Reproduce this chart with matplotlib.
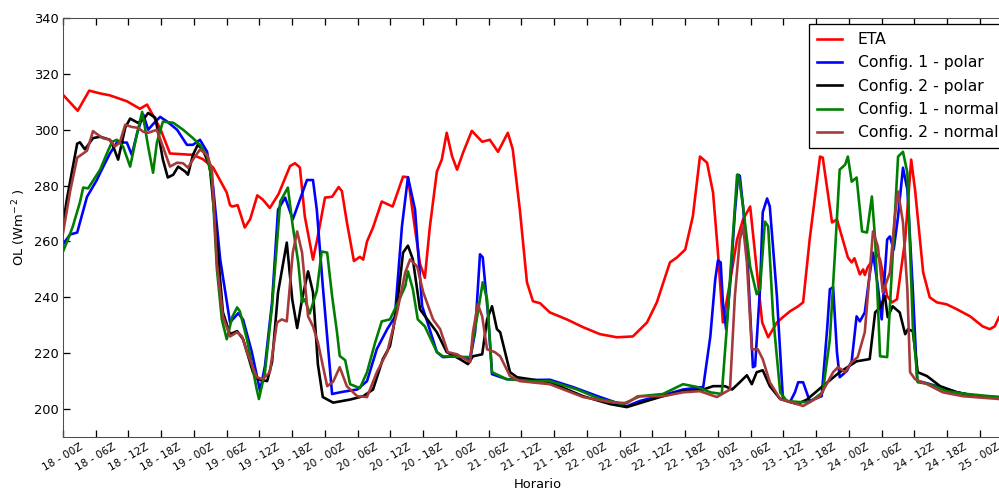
import matplotlib
matplotlib.use("Agg")
import matplotlib.pyplot as plt

# hours since 18 - 00Z, values in W m^-2
eta_h = [0, 2.7, 4.8, 6.8, 8.6, 11.7, 14.1, 15.4, 17.8, 19.6, 23.8, 25.6, 27.5,
         30.0, 30.6, 31.0, 32.0, 33.3, 34.3, 35.6, 36.6, 37.9, 39.5, 41.6, 42.5,
         43.4, 44.3, 45.8, 46.6, 48.0, 49.3, 50.5, 51.1, 52.0, 53.3, 54.4, 55.0,
         55.7, 56.8, 58.4, 60.4, 62.3, 63.2, 64.1, 65.4, 66.3, 67.2, 68.5, 69.4,
         70.3, 71.3, 72.2, 73.3, 74.9, 76.8, 78.2, 79.7, 81.5, 82.4, 83.7, 85.0,
         86.1, 87.4, 89.2, 92.3, 95.3, 98.4, 101.5, 104.4, 107.0, 108.8, 111.2,
         112.5, 114.0, 115.4, 116.7, 118.0, 119.1, 120.0, 120.9, 122.2, 123.5,
         124.6, 125.9, 127.1, 128.1, 129.2, 130.8, 131.9, 133.2, 134.7, 135.6,
         136.8, 138.7, 139.2, 140.9, 141.8, 143.8, 144.5, 145.0, 146.0, 146.6,
         146.9, 147.5, 149.1, 149.7, 151.0, 151.9, 152.8, 154.3, 155.4, 156.1,
         157.6, 158.8, 160.1, 161.9, 163.8, 166.2, 168.5, 169.8, 170.7, 171.5, 174]
eta_v = [312.5, 306.8, 314, 313, 312.3, 310.2, 307.5, 309, 300.5, 291.5, 291, 289.5,
         286.5, 277.5, 273, 272.5, 273, 265, 268, 276.5, 275, 272, 277, 287, 288,
         286.5, 269, 253.5, 261, 275.7, 276, 279.5, 278, 267, 253, 254.5, 253.5,
         260, 265, 274.3, 272.5, 283.2, 283, 270, 252, 247, 265, 285, 289.3,
         298.9, 290.4, 285.7, 291.8, 299.6, 295.7, 296.4, 292.1, 298.9, 293, 271.4,
         245.4, 238.6, 237.9, 234.6, 232.1, 229.3, 226.8, 225.7, 226, 231, 238.2,
         252.5, 254.3, 257.1, 269, 290.4, 288.2, 277.5, 256, 231, 245.4, 260.7,
         267.9, 272.5, 250, 231, 225.7, 231, 232.9, 235, 236.8, 238.2,
         260.7, 290.4, 290, 266.8, 267.9, 254.3, 252.5, 254, 248.2, 250,
         248, 251, 255.4, 253.6, 240.4, 238.2, 239.3, 260.7, 289.3, 278.6,
         248.9, 240, 238.2, 237.5, 235.7, 233.2, 229.6, 228.6, 229.6, 232.9, 238]

c1p_h = [0, 1.3, 2.6, 4.4, 6.2, 6.8, 8.6, 9.9, 11.7, 12.6, 13.6, 14.7, 15.6, 16.5,
         17.8, 19.1, 20.9, 22.7, 23.8, 25.1, 26.4, 27.5, 28.8, 30.6, 32.1, 33.0,
         34.6, 36.1, 37.0, 38.3, 39.4, 40.7, 42.1, 44.7, 45.8, 46.5, 47.6, 49.3,
         51.3, 53.9, 55.7, 57.5, 59.4, 60.8, 62.1, 63.2, 64.5, 65.8, 66.7, 68.5,
         69.6, 72.2, 74.6, 75.5, 76.4, 76.9, 77.9, 78.6, 81.3, 86.1, 89.2, 93.4,
         98.4, 103.3, 105.7, 110.7, 113.6, 117.3, 118.6, 119.5, 120.0, 120.5,
         120.9, 121.5, 122.2, 123.1, 123.7, 124.0, 124.6, 125.5, 126.4, 126.8,
         127.7, 128.2, 129.0, 129.5, 130.8, 131.9, 133.2, 134.1, 134.7, 135.6,
         136.8, 139.0, 140.0, 140.5, 141.1, 141.8, 142.3, 143.6, 144.5, 145.4,
         146.0, 146.9, 147.8, 148.4, 149.3, 150.0, 151.0, 151.5, 152.2, 153.0,
         153.9, 154.7, 155.7, 156.5, 157.6, 160.7, 163.8, 167.4, 171.5, 174]
c1p_v = [259, 262.5, 263.2, 276, 282, 284.5, 291.5, 295.5, 295.4, 291, 298.9, 305.5,
         300, 302, 304.6, 302.9, 300, 294.6, 294.6, 296.4, 292.1, 279.6, 253.6,
         231, 234.3, 232, 220.4, 206.5, 215.4, 238.2, 271.4, 275.7, 267.9, 282,
         282, 271.4, 244, 205.4, 206.2, 207, 210, 221.5, 228.6, 233, 265.4, 283,
         271.4, 236.8, 231.5, 220.4, 218.6, 218.9, 217.9, 227.5, 255.4, 254.3,
         233.2, 212.5, 210.7, 210.4, 210.5, 207.9, 204.3, 201, 202.9, 205.4, 207,
         207.9, 226, 246.4, 253.2, 252.5, 238.2, 228.6, 244, 270.4, 283.9, 283.5,
         272.5, 250, 215, 215.4, 242.9, 270.4, 275.4, 272.5, 240.4, 203.6, 202.5,
         206, 209.6, 209.6, 202.9, 204.6, 228.6, 242.9, 243.6, 220.4, 211.4,
         213.6, 217.1, 233.2, 231.4, 234.6, 248.2, 256, 243.9, 232.1, 260.7,
         261.8, 257.1, 269, 286.4, 278.6, 242.9, 210, 209.6, 207.9, 206, 204.6,
         204.3, 204]

c2p_h = [0, 0.7, 1.6, 2.6, 3.1, 4.0, 4.4, 5.5, 6.8, 8.6, 9.2, 10.1, 11.4, 12.3,
         13.7, 14.7, 15.6, 16.9, 17.4, 18.3, 19.2, 20.2, 21.1, 22.4, 22.9, 23.8,
         24.7, 25.6, 26.9, 28.2, 29.3, 30.6, 31.9, 33.0, 34.8, 35.7, 37.4, 38.3,
         39.4, 41.0, 42.0, 42.9, 43.8, 44.9, 45.8, 46.7, 47.6, 49.5, 52.6, 55.0,
         56.8, 58.6, 59.9, 60.5, 61.5, 62.3, 63.2, 64.1, 65.4, 68.5, 70.3, 72.7,
         74.2, 75.1, 76.8, 77.7, 78.6, 79.5, 80.1, 81.9, 83.2, 89.2, 95.3, 100.2,
         103.3, 106.3, 109.9, 113.6, 117.3, 119.1, 121.3, 122.6, 124.0, 125.3,
         126.2, 127.1, 128.2, 129.5, 131.4, 134.5, 136.3, 139.2, 142.3, 145.4,
         147.8, 148.8, 149.7, 150.6, 151.1, 152.0, 153.3, 154.3, 154.8, 155.7,
         156.6, 158.3, 160.7, 163.8, 167.4, 171.5, 174]
c2p_v = [266, 275, 284.6, 295, 295.5, 293, 294, 297, 297.5, 296.4, 294, 289.3,
         300.7, 304, 302.5, 303.6, 306, 304.3, 299.3, 289.3, 282.9, 283.9, 286.8,
         285, 283.9, 291, 294.6, 292.9, 286.8, 260, 234.6, 226.8, 227.9, 225,
         213.2, 210.7, 210, 216.8, 241.8, 259.6, 239.3, 229, 239.3, 249.3, 241.8,
         216, 204.3, 202.3, 203.4, 204.6, 207, 217.9, 222.5, 228.6, 242, 256,
         258.5, 253.6, 235.7, 227.5, 220.4, 217.9, 216.1, 218.9, 219.6, 232.1,
         236.8, 228.6, 227.5, 213.2, 211.4, 209.6, 204.6, 201.8, 200.7, 202.5,
         204.6, 206.4, 207, 208.2, 208.2, 207, 209.6, 212.1, 208.9, 213.2, 213.9,
         208.2, 203.6, 201.8, 203.4, 208.2, 213.2, 217.1, 217.9, 234.6, 236.4,
         240.4, 232.9, 236.8, 234.6, 226.8, 228.6, 227.9, 213.2, 211.8, 208.2,
         206, 204.6, 204, 203.8]

c1n_h = [0, 0.9, 1.8, 3.1, 3.7, 4.6, 6.8, 8.1, 9.0, 9.9, 11.0, 12.3, 13.6, 14.5,
         15.0, 15.6, 16.5, 17.2, 18.3, 20.2, 22.0, 23.8, 25.1, 26.4, 27.3, 28.2,
         29.1, 30.0, 31.0, 31.9, 32.4, 33.7, 35.5, 35.9, 37.0, 38.3, 39.8, 41.2,
         42.1, 43.1, 43.8, 44.3, 45.2, 46.5, 47.4, 48.4, 49.3, 50.2, 50.7, 51.7,
         52.6, 54.4, 55.7, 57.2, 58.4, 59.9, 61.4, 62.7, 63.2, 64.1, 65.0, 66.3,
         68.5, 69.6, 74.6, 75.8, 76.9, 77.7, 78.6, 81.3, 86.1, 89.2, 94.2, 98.4,
         102.6, 105.7, 109.9, 113.6, 116.2, 118.6, 120.7, 121.6, 122.6, 123.5,
         123.8, 124.6, 125.9, 127.1, 127.7, 128.6, 129.2, 130.1, 131.4, 132.6,
         135.0, 136.8, 139.2, 140.5, 141.4, 142.3, 143.3, 143.8, 144.5, 145.4,
         146.4, 147.3, 148.2, 148.8, 149.7, 151.0, 151.9, 153.0, 153.9, 154.7,
         155.7, 156.6, 158.8, 161.9, 165.6, 171.5, 174]
c1n_v = [256.4, 260.7, 265.4, 274, 279.3, 279, 285.7, 291.8, 295.7, 296.4, 294,
         286.8, 298.9, 306.4, 301, 294, 284.6, 295.4, 302.9, 302.5, 300, 297,
         294.6, 290.4, 282, 250, 232.1, 225, 232.9, 236.4, 235, 225, 207, 203.6,
         213.2, 236.8, 274.3, 279.3, 265.4, 252.5, 238.2, 239.3, 234.2, 242.3,
         256.4, 256, 240.5, 227.5, 219, 217.5, 208.9, 207.5, 213.2, 223.9, 231.4,
         232.1, 238.2, 244, 249.3, 242.9, 232.1, 229.6, 220.4, 218.9, 218.6,
         232.1, 245.4, 239.3, 213.2, 210.7, 210, 210, 207, 203.6, 201.8, 204.6,
         205.4, 208.9, 207.9, 206, 205.4, 228.6, 258.2, 283.9, 283.5, 272.5, 251,
         241.1, 242.9, 267.1, 265.4, 233.2, 206, 202.9, 202.5, 202.5, 206, 225,
         254.6, 285.7, 287.5, 290.4, 281.4, 282.9, 263.6, 263.2, 276.1, 260.7,
         218.9, 218.6, 251, 290.4, 292.1, 284.6, 229.6, 209.6, 208.9, 206.4,
         205.4, 204.3, 204]

c2n_h = [0, 1.3, 2.6, 3.7, 4.4, 5.5, 6.4, 7.3, 8.6, 9.5, 10.4, 11.4, 12.6, 13.7,
         14.7, 15.6, 17.2, 18.3, 19.6, 20.9, 22.0, 22.9, 23.8, 25.1, 26.4, 27.3,
         28.2, 29.3, 30.6, 31.9, 32.8, 33.7, 35.5, 36.6, 37.9, 39.2, 40.1, 41.0,
         42.1, 42.9, 43.8, 44.9, 45.8, 46.7, 48.4, 49.5, 50.7, 52.0, 53.9, 55.7,
         57.5, 59.4, 61.2, 62.7, 63.6, 64.9, 66.0, 67.8, 69.1, 70.5, 72.2, 74.6,
         75.1, 76.0, 76.8, 77.7, 79.1, 80.1, 81.9, 83.7, 89.2, 95.3, 100.2, 103.3,
         105.3, 109.9, 113.6, 116.7, 119.8, 122.2, 123.1, 124.0, 124.6, 125.3,
         126.2, 127.3, 128.2, 129.5, 131.4, 134.5, 135.6, 138.7, 141.1, 142.0,
         143.3, 144.5, 145.6, 146.9, 147.8, 148.4, 149.3, 150.2, 151.5, 152.4,
         153.0, 153.9, 154.7, 155.2, 156.1, 158.3, 161.2, 164.9, 171.5, 174]
c2n_v = [263, 277.9, 290, 291.5, 292.5, 299.5, 298.2, 297, 296.4, 294, 295.4,
         301.8, 301, 300.7, 299.3, 298.9, 300, 294, 286.8, 288.2, 288, 286.4,
         289.3, 292.9, 291, 285.7, 252, 233.2, 226, 227.5, 226, 220.4, 211.4,
         210.7, 213.2, 231, 232.1, 231.4, 256, 263.6, 256, 233.2, 229.6, 223.9,
         208.2, 209.8, 215, 208.2, 204.6, 204.3, 213.2, 220.4, 234.6, 248.9,
         253.6, 251, 241.8, 232.1, 228.6, 220.4, 219.6, 216.8, 227.5, 237.5,
         233.2, 221.4, 220.4, 218.9, 211.8, 210, 208.9, 204.3, 202.5, 202.1,
         204.6, 204.6, 206, 206.4, 204.3, 207, 240.4, 260.7, 265.4, 252.5, 221.4,
         221.4, 217.9, 209.6, 203.6, 201.8, 201.1, 204.6, 213.2, 215, 213.2,
         216.8, 218.6, 227.5, 248.9, 263.6, 258.2, 241.8, 248.9, 269, 277.9,
         266.8, 242.9, 213.2, 210.7, 208.9, 206, 204.6, 203.6, 203.4]

series = [
    ("ETA", eta_h, eta_v, "#ff0000"),
    ("Config. 1 - polar", c1p_h, c1p_v, "#0000ff"),
    ("Config. 2 - polar", c2p_h, c2p_v, "#000000"),
    ("Config. 1 - normal", c1n_h, c1n_v, "#007f00"),
    ("Config. 2 - normal", c2n_h, c2n_v, "#a63a3a"),
]

days = [18, 19, 20, 21, 22, 23, 24, 25]
hours_of_day = ["00", "06", "12", "18"]
tick_pos = []
tick_lab = []
for i, d in enumerate(days):
    for j, hh in enumerate(hours_of_day):
        t = 24 * i + 6 * j
        if t <= 168:
            tick_pos.append(t)
            tick_lab.append("%d - %sZ" % (d, hh))

dpi = 94
fig = plt.figure(figsize=(999 / dpi, 491 / dpi), dpi=dpi)
fig.patch.set_facecolor("white")
# axes run past the right edge of the figure, as in the original
ax = fig.add_axes([63 / 999, 54 / 491, 949.7 / 999, 419 / 491])

for name, h, v, col in series:
    ax.plot(h, v, color=col, lw=2, label=name)

ax.set_xlim(0, 174)
ax.set_ylim(190, 340)
ax.set_yticks(range(200, 341, 20))
ax.set_xticks(tick_pos)
ax.set_xticklabels(tick_lab, rotation=30, fontsize=8)
ax.tick_params(direction="in", top=True, right=True, length=5, width=1,
               labelsize=10)
ax.tick_params(axis="x", labelsize=8)
for sp in ax.spines.values():
    sp.set_color("0.3")

ax.set_xlabel("Horario", fontsize=10)
ax.set_ylabel(r"OL (Wm$^{-\,2}$ )", fontsize=10)

leg = ax.legend(loc="upper left", bbox_to_anchor=(0.7855, 0.985),
                borderaxespad=0, fontsize=12, handlelength=1.6,
                handletextpad=1.0, borderpad=0.5, labelspacing=0.53,
                fancybox=False, framealpha=1)
leg.get_frame().set_edgecolor("black")
leg.get_frame().set_linewidth(1)

fig.savefig("out.png", dpi=dpi, facecolor="white")
